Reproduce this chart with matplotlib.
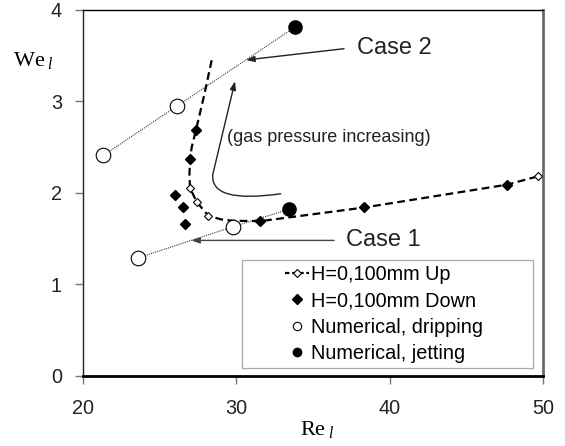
import matplotlib
matplotlib.use('Agg')
import matplotlib.pyplot as plt
from matplotlib.lines import Line2D
from matplotlib.patches import FancyArrowPatch, Rectangle
from matplotlib.path import Path

plt.rcParams['font.family'] = ['Liberation Sans', 'DejaVu Sans']
plt.rcParams['mathtext.fontset'] = 'custom'
plt.rcParams['mathtext.rm'] = 'Liberation Serif'
plt.rcParams['mathtext.it'] = 'Liberation Serif:italic'

# experimental points, H=0,100mm
up_re = [26.99, 27.43, 28.18, 49.63]
up_we = [2.05, 1.90, 1.75, 2.18]
down_re = [27.38, 26.99, 26.01, 26.55, 26.66, 31.55, 38.35, 47.65]
down_we = [2.69, 2.37, 1.98, 1.84, 1.66, 1.69, 1.84, 2.09]

# dashed trend line
curve_re = [28.40, 27.90, 27.38, 27.10, 26.99, 26.95, 26.99, 27.43, 28.18, 29.0, 29.8, 31.55, 38.35, 47.65, 49.63]
curve_we = [3.45, 3.06, 2.69, 2.50, 2.37, 2.20, 2.05, 1.90, 1.75, 1.71, 1.695, 1.69, 1.84, 2.09, 2.18]

# numerical runs: case 2 (upper) and case 1 (lower)
case2_re = [21.34, 26.14, 33.80]
case2_we = [2.41, 2.95, 3.81]
case1_re = [23.62, 29.80, 33.43]
case1_we = [1.29, 1.63, 1.82]
case2_jet = [False, False, True]
case1_jet = [False, False, True]

legend_labels = ['H=0,100mm Up', 'H=0,100mm Down', 'Numerical, dripping', 'Numerical, jetting']

fig, ax = plt.subplots(figsize=(5.65, 4.46), dpi=100)
fig.subplots_adjust(left=0.1464, right=0.9616, top=0.9776, bottom=0.1576)

ax.plot(curve_re, curve_we, color='black', lw=1.6, ls=(0, (3.5, 2.0)), zorder=2)
ax.plot(up_re, up_we, ls='none', marker='D', ms=4, mfc='white', mec='black', mew=0.8, zorder=4)
ax.plot(down_re, down_we, ls='none', marker='D', ms=5, color='black', zorder=4)

for re, we, jet in [(case2_re, case2_we, case2_jet), (case1_re, case1_we, case1_jet)]:
    ax.plot(re, we, color='#333333', lw=0.8, ls=(0, (1, 1)), zorder=1)
    drip_re = [r for r, j in zip(re, jet) if not j]
    drip_we = [w for w, j in zip(we, jet) if not j]
    jet_re = [r for r, j in zip(re, jet) if j]
    jet_we = [w for w, j in zip(we, jet) if j]
    ax.plot(drip_re, drip_we, ls='none', marker='o', ms=10.5, mfc='white', mec='black', mew=0.8, zorder=5)
    ax.plot(jet_re, jet_we, ls='none', marker='o', ms=9.5, color='black', zorder=5)

# case labels with arrows
ax.annotate('', xy=(30.46, 3.45), xytext=(37.2, 3.58),
            arrowprops=dict(arrowstyle='-|>,head_length=0.5,head_width=0.18', color='#222222', lw=1.0))
ax.text(37.85, 3.58, 'Case 2', fontsize=17, va='center', ha='left', color='#222222')
ax.annotate('', xy=(26.89, 1.48), xytext=(36.55, 1.48),
            arrowprops=dict(arrowstyle='-|>,head_length=0.5,head_width=0.18', color='#444444', lw=1.0))
ax.text(37.12, 1.48, 'Case 1', fontsize=17, va='center', ha='left', color='#222222')

# curved arrow: gas pressure increasing
verts = [(32.9, 1.99), (28.3, 1.88), (28.47, 2.2), (29.92, 3.22)]
codes = [Path.MOVETO, Path.CURVE3, Path.CURVE3, Path.LINETO]
arr = FancyArrowPatch(path=Path(verts, codes), arrowstyle='-|>,head_length=0.5,head_width=0.18',
                      mutation_scale=10, color='#222222', lw=1.0)
ax.add_patch(arr)
ax.text(29.38, 2.60, '(gas pressure increasing)', fontsize=13, va='center', ha='left', color='#222222')

ax.set_xlim(20, 50)
ax.set_ylim(0, 4)
ax.set_xticks([20, 30, 40, 50])
ax.set_yticks([0, 1, 2, 3, 4])
ax.tick_params(direction='out', length=6, width=1, color='#777777', labelsize=14.3,
               labelcolor='#222222')
ax.tick_params(axis='x', pad=11)
ax.tick_params(axis='y', pad=9)

ax.spines['top'].set_color('black')
ax.spines['top'].set_linewidth(1.0)
ax.spines['left'].set_color('#222222')
ax.spines['left'].set_linewidth(1.0)
ax.spines['bottom'].set_color('black')
ax.spines['bottom'].set_linewidth(2.0)
ax.spines['right'].set_color('#6a6a6a')
ax.spines['right'].set_linewidth(2.0)

ax.set_xlabel(r'$\mathrm{Re}_{\ \mathit{l}}$', fontsize=16, va='top')
ax.xaxis.set_label_coords(0.509, -0.118)
ax.set_ylabel(r'$\mathrm{We}_{\ \mathit{l}}$', fontsize=16, rotation=0, ha='left', va='center')
ax.yaxis.set_label_coords(-0.151, 0.861)

# legend
handles = [
    Line2D([], [], color='black', lw=1.6, ls=(0, (2.0, 1.2)), marker='D', ms=4, mfc='white', mec='black', mew=0.8),
    Line2D([], [], ls='none', marker='D', ms=5, color='black'),
    Line2D([], [], ls='none', marker='o', ms=6, mfc='white', mec='black', mew=0.8),
    Line2D([], [], ls='none', marker='o', ms=6, color='black'),
]
ax.legend(handles, legend_labels, loc='upper left', bbox_to_anchor=(0.4392, 0.302), frameon=False,
          fontsize=14.3, handlelength=1.2, handletextpad=0.1, labelspacing=0.36, borderpad=0,
          borderaxespad=0)
ax.add_patch(Rectangle((0.345, 0.021), 0.633, 0.295, transform=ax.transAxes, fill=False,
                       edgecolor='#a8a8a8', lw=0.9, zorder=6))

fig.savefig('out.png', dpi=100)
